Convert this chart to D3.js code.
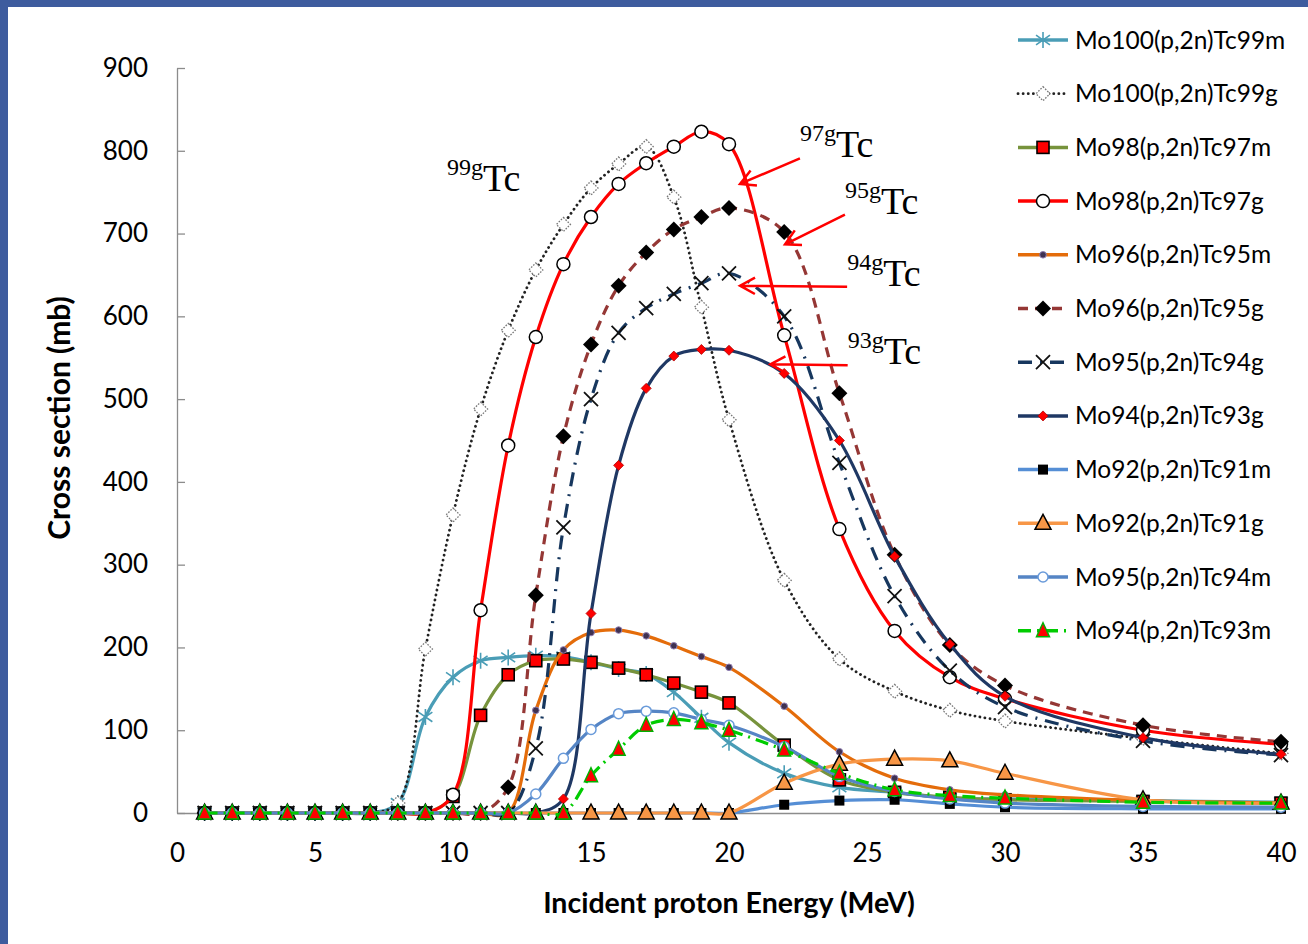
<!DOCTYPE html>
<html>
<head>
<meta charset="utf-8">
<script src="https://cdn.jsdelivr.net/npm/d3@7"></script>
<style>
  body { margin: 0; background: #fff; }
  svg { display: block; }
</style>
</head>
<body>
<div id="chart"></div>
<script>
// incident proton energy (MeV) where each point was computed
var energy = [1, 2, 3, 4, 5, 6, 7, 8, 9, 10, 11, 12, 13, 14, 15, 16, 17, 18, 19, 20, 22, 24, 26, 28, 30, 35, 40];

// cross sections (mb)
var tc99m = [0, 0, 0, 0, 0, 0, 0, 12, 116, 164, 184, 188, 190, 189, 182, 174, 168, 146, 115, 85, 48, 31, 25, 18, 17, 15, 13];
var tc99g = [0, 0, 0, 0, 0, 0, 0, 12, 198, 360, 488, 583, 656, 711, 755, 784, 805, 744, 611, 475, 281, 186, 147, 124, 111, 90, 72];
var tc97m = [0, 0, 0, 0, 0, 0, 0, 0, 0, 20, 118, 167, 184, 186, 182, 175, 167, 157, 146, 133, 82, 40, 25, 19, 16, 14, 12];
var tc97g = [0, 0, 0, 0, 0, 0, 0, 0, 0, 22, 245, 444, 575, 663, 720, 760, 785, 805, 823, 808, 577, 343, 220, 164, 138, 100, 83];
var tc95m = [0, 0, 0, 0, 0, 0, 0, 0, 0, 0, 0, 0, 124, 197, 218, 221, 214, 202, 189, 176, 129, 74, 42, 28, 22, 15, 12];
var tc95g = [0, 0, 0, 0, 0, 0, 0, 0, 0, 0, 0, 31, 263, 455, 566, 637, 677, 705, 720, 731, 702, 507, 312, 203, 154, 106, 86];
var tc94g = [0, 0, 0, 0, 0, 0, 0, 0, 0, 0, 0, 0, 78, 345, 500, 580, 610, 627, 640, 652, 600, 423, 262, 172, 128, 87, 70];
var tc93g = [0, 0, 0, 0, 0, 0, 0, 0, 0, 0, 0, 0, 0, 17, 241, 420, 513, 552, 560, 559, 531, 450, 310, 204, 141, 91, 71];
var tc91m = [0, 0, 0, 0, 0, 0, 0, 0, 0, 0, 0, 0, 0, 0, 0, 0, 0, 0, 0, 0, 10, 15, 16, 11, 7, 5, 5];
var tc91g = [0, 0, 0, 0, 0, 0, 0, 0, 0, 0, 0, 0, 0, 0, 0, 0, 0, 0, 0, 0, 36, 59, 65, 63, 48, 16, 12];
var tc94m = [0, 0, 0, 0, 0, 0, 0, 0, 0, 0, 0, 0, 23, 66, 101, 120, 123, 121, 113, 106, 80, 44, 26, 17, 12, 8, 7];
var tc93m = [0, 0, 0, 0, 0, 0, 0, 0, 0, 0, 0, 0, 0, 0, 45, 77, 106, 113, 109, 100, 76, 48, 28, 21, 18, 13, 12];

var xTicks = [0, 5, 10, 15, 20, 25, 30, 35, 40];
var yTicks = [0, 100, 200, 300, 400, 500, 600, 700, 800, 900];

// isotope labels with arrows, in data units (label corner, arrow tip)
var labels = [
  { mass: "99g", x: 9.78, y: 751, tip: null },
  { mass: "97g", x: 22.57, y: 792, tip: [20.4, 760] },
  { mass: "95g", x: 24.2, y: 724, tip: [22.03, 687] },
  { mass: "94g", x: 24.28, y: 637, tip: [20.4, 637] },
  { mass: "93g", x: 24.3, y: 542, tip: [21.5, 542] }
];

var series = [
  { name: "Mo100(p,2n)Tc99m", values: tc99m, color: "#4A9DB6", dash: null, marker: "star" },
  { name: "Mo100(p,2n)Tc99g", values: tc99g, color: "#222", dash: "0.1,5", width: 2.8, marker: "openDiamond" },
  { name: "Mo98(p,2n)Tc97m", values: tc97m, color: "#77933C", dash: null, marker: "redSquare" },
  { name: "Mo98(p,2n)Tc97g", values: tc97g, color: "#FF0000", dash: null, marker: "openCircle" },
  { name: "Mo96(p,2n)Tc95m", values: tc95m, color: "#E46C0A", dash: null, marker: "dot" },
  { name: "Mo96(p,2n)Tc95g", values: tc95g, color: "#953735", dash: "10,7", marker: "diamond" },
  { name: "Mo95(p,2n)Tc94g", values: tc94g, color: "#17375E", dash: "14,8,2,8", marker: "cross" },
  { name: "Mo94(p,2n)Tc93g", values: tc93g, color: "#1F3864", dash: null, marker: "smallDiamond" },
  { name: "Mo92(p,2n)Tc91m", values: tc91m, color: "#558ED5", dash: null, marker: "blackSquare" },
  { name: "Mo92(p,2n)Tc91g", values: tc91g, color: "#F79646", dash: null, marker: "triangle" },
  { name: "Mo95(p,2n)Tc94m", values: tc94m, color: "#5585C5", dash: null, marker: "smallCircle" },
  { name: "Mo94(p,2n)Tc93m", values: tc93m, color: "#00CC00", dash: "13,6,2,6", marker: "redTriangle" }
];

var width = 1308, height = 944;

var svg = d3.select("#chart").append("svg")
  .attr("width", width)
  .attr("height", height)
  .style("font-family", "Lato, 'Open Sans', sans-serif");

// slide frame
svg.append("rect").attr("x", 0).attr("y", 0).attr("width", width).attr("height", 7).attr("fill", "#3E5C9E");
svg.append("rect").attr("x", 0).attr("y", 0).attr("width", 8).attr("height", height).attr("fill", "#3E5C9E");

var x = d3.scaleLinear().domain([0, 40]).range([177, 1281]);
var y = d3.scaleLinear().domain([0, 900]).range([813, 68]);

// axes
var yAxis = svg.append("g")
  .attr("transform", "translate(" + x(0) + ",0)")
  .call(d3.axisLeft(y).tickValues(yTicks).tickSizeInner(-8).tickSizeOuter(0).tickPadding(29));
var xAxis = svg.append("g")
  .attr("transform", "translate(0," + y(0) + ")")
  .call(d3.axisBottom(x).tickValues(xTicks).tickSize(0).tickPadding(31));

[xAxis, yAxis].forEach(function(a) {
  a.selectAll("path, line").attr("stroke", "#8c8c8c").attr("stroke-width", 1.3);
  a.selectAll("text").attr("font-size", 26).attr("fill", "#000").style("font-family", "Lato, sans-serif");
});

svg.append("text")
  .attr("x", 729).attr("y", 913)
  .attr("text-anchor", "middle")
  .attr("font-size", 28.5).attr("font-weight", "bold")
  .text("Incident proton Energy (MeV)");

svg.append("text")
  .attr("transform", "translate(70,418) rotate(-90)")
  .attr("text-anchor", "middle")
  .attr("font-size", 30).attr("font-weight", "bold")
  .text("Cross section (mb)");

// marker painters, each draws around (0,0)
function drawMarker(g, kind, s) {
  if (kind === "star") {
    var r = 8;
    g.append("path")
      .attr("d", "M0," + (-r) + "V" + r + "M" + (-r * 0.87) + "," + (-r * 0.6) + "L" + (r * 0.87) + "," + (r * 0.6) +
        "M" + (-r * 0.87) + "," + (r * 0.6) + "L" + (r * 0.87) + "," + (-r * 0.6))
      .attr("stroke", s.color).attr("stroke-width", 1.6).attr("fill", "none");
  } else if (kind === "openDiamond") {
    g.append("path").attr("d", "M0,-7L7,0L0,7L-7,0Z")
      .attr("fill", "#fff").attr("stroke", "#777").attr("stroke-width", 1.3).attr("stroke-dasharray", "1.6,1.4");
  } else if (kind === "redSquare") {
    g.append("rect").attr("x", -6).attr("y", -6).attr("width", 12).attr("height", 12)
      .attr("fill", "#FF0000").attr("stroke", "#000").attr("stroke-width", 1.6);
  } else if (kind === "openCircle") {
    g.append("circle").attr("r", 6.5).attr("fill", "#fff").attr("stroke", "#000").attr("stroke-width", 1.5);
  } else if (kind === "dot") {
    g.append("circle").attr("r", 3.3).attr("fill", "#3F3151").attr("stroke", "#8E7CB0").attr("stroke-width", 1);
  } else if (kind === "diamond") {
    g.append("path").attr("d", "M0,-8L8,0L0,8L-8,0Z").attr("fill", "#000");
  } else if (kind === "cross") {
    g.append("path").attr("d", "M-7,-7L7,7M-7,7L7,-7").attr("stroke", "#111").attr("stroke-width", 1.8);
  } else if (kind === "smallDiamond") {
    g.append("path").attr("d", "M0,-5L5,0L0,5L-5,0Z").attr("fill", "#FF0000").attr("stroke", "#B00000").attr("stroke-width", 0.8);
  } else if (kind === "blackSquare") {
    g.append("rect").attr("x", -5).attr("y", -5).attr("width", 10).attr("height", 10).attr("fill", "#000");
  } else if (kind === "triangle") {
    g.append("path").attr("d", "M0,-9L8,6L-8,6Z").attr("fill", "#F79646").attr("stroke", "#000").attr("stroke-width", 1.5);
  } else if (kind === "smallCircle") {
    g.append("circle").attr("r", 5).attr("fill", "#fff").attr("stroke", "#6A9BDA").attr("stroke-width", 1.5);
  } else if (kind === "redTriangle") {
    g.append("path").attr("d", "M0,-8L6.5,6L-6.5,6Z").attr("fill", "#FF0000").attr("stroke", "#00B000").attr("stroke-width", 1.5);
  }
}

var line = d3.line()
  .x(function(d) { return x(d[0]); })
  .y(function(d) { return y(d[1]); })
  .curve(d3.curveCatmullRom.alpha(0.5));

var plot = svg.append("g");

series.forEach(function(s) {
  var pts = energy.map(function(e, i) { return [e, s.values[i]]; });
  var g = plot.append("g");
  g.append("path")
    .datum(pts)
    .attr("d", line)
    .attr("fill", "none")
    .attr("stroke", s.color)
    .attr("stroke-width", s.width || 3.2)
    .attr("stroke-linecap", s.dash === "0.1,5" ? "round" : "butt")
    .attr("stroke-dasharray", s.dash);
  pts.forEach(function(p) {
    var m = g.append("g").attr("transform", "translate(" + x(p[0]) + "," + y(p[1]) + ")");
    drawMarker(m, s.marker, s);
  });
});

// isotope labels
labels.forEach(function(l) {
  var px = x(l.x), py = y(l.y);
  var t = svg.append("text")
    .attr("x", px).attr("y", py)
    .style("font-family", "'Liberation Serif', 'Times New Roman', serif");
  t.append("tspan").attr("font-size", 24).attr("dy", -16).text(l.mass);
  t.append("tspan").attr("font-size", 38).attr("dy", 16).text("Tc");
  if (l.tip) {
    var sx = px, sy = py + 1, tx = x(l.tip[0]), ty = y(l.tip[1]);
    var ang = Math.atan2(ty - sy, tx - sx), a = 17, w = 0.5;
    svg.append("path")
      .attr("d", "M" + sx + "," + sy + "L" + tx + "," + ty +
        "M" + (tx - a * Math.cos(ang - w)) + "," + (ty - a * Math.sin(ang - w)) +
        "L" + tx + "," + ty +
        "L" + (tx - a * Math.cos(ang + w)) + "," + (ty - a * Math.sin(ang + w)))
      .attr("fill", "none").attr("stroke", "#FF0000").attr("stroke-width", 2.5);
  }
});

// legend
var legend = svg.append("g");
series.forEach(function(s, i) {
  var ly = 40 + i * 53.7;
  var g = legend.append("g").attr("transform", "translate(0," + ly + ")");
  g.append("line")
    .attr("x1", 1018).attr("x2", 1068)
    .attr("stroke", s.color).attr("stroke-width", s.width || 3.5)
    .attr("stroke-linecap", s.dash === "0.1,5" ? "round" : "butt")
    .attr("stroke-dasharray", s.dash);
  drawMarker(g.append("g").attr("transform", "translate(1043,0)"), s.marker, s);
  g.append("text")
    .attr("x", 1075).attr("y", 0).attr("dy", "0.35em")
    .attr("font-size", 24.5)
    .text(s.name);
});
</script>
</body>
</html>
